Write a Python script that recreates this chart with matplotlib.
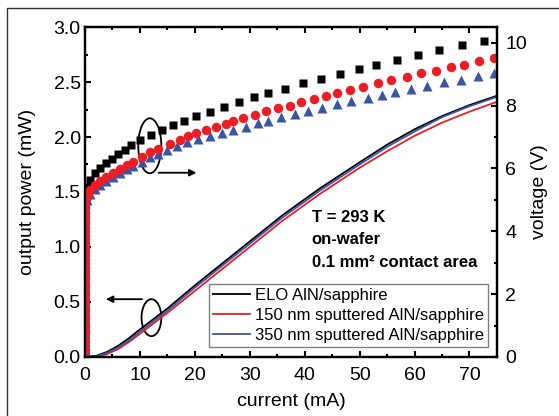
import matplotlib
matplotlib.use("Agg")
import matplotlib.pyplot as plt
from matplotlib.patches import Ellipse
from matplotlib.lines import Line2D

plt.rcParams["font.family"] = ["Liberation Sans", "DejaVu Sans"]

# output power (left axis), lines
cur_lines = [0, 2, 4, 6, 8, 10, 15, 20, 25, 30, 36, 42.7, 50, 55, 60, 65, 70, 75]
p_elo = [0, 0.01, 0.045, 0.10, 0.17, 0.25, 0.44, 0.65, 0.85, 1.05, 1.29, 1.53, 1.77, 1.93, 2.07, 2.19, 2.29, 2.375]
p_150 = [0, 0.0, 0.025, 0.07, 0.135, 0.21, 0.40, 0.60, 0.80, 1.00, 1.24, 1.48, 1.72, 1.87, 2.01, 2.13, 2.23, 2.32]
p_350 = [0, 0.005, 0.035, 0.085, 0.15, 0.23, 0.42, 0.63, 0.83, 1.03, 1.27, 1.51, 1.75, 1.91, 2.05, 2.18, 2.28, 2.365]

# voltage (right axis), markers
low_v = [0.0, 0.25, 0.5, 0.75, 1.0, 1.25, 1.5, 1.75, 2.0, 2.25, 2.5, 2.75,
         3.0, 3.25, 3.5, 3.75, 4.0, 4.25, 4.5, 4.75]
low_i = [0.0] * len(low_v)

i_elo = low_i + [0.0, 0.2, 0.5, 1.0, 1.8, 2.8, 3.8, 4.9, 6.0, 7.2, 8.4, 10.1, 12.0,
                 14.0, 16.1, 18.0, 20.2, 22.7, 25.3, 28.1, 30.8, 33.4, 36.4, 39.7,
                 43.0, 46.5, 49.8, 53.0, 56.8, 60.6, 64.5, 68.7, 72.7]
v_elo = low_v + [4.9, 5.1, 5.4, 5.62, 5.85, 6.02, 6.16, 6.31, 6.46, 6.6, 6.74, 6.9, 7.06,
                 7.21, 7.38, 7.51, 7.66, 7.81, 7.95, 8.12, 8.26, 8.40, 8.54, 8.72,
                 8.86, 9.02, 9.17, 9.30, 9.45, 9.61, 9.77, 9.93, 10.06]

i_150 = low_i + [0.05, 0.3, 0.9, 1.8, 2.7, 3.9, 5.1, 6.4, 7.6, 8.8, 10.3, 11.8, 13.3,
                 15.5, 17.3, 18.8, 20.3, 22.1, 23.9, 25.6, 27.0, 28.8, 30.9, 33.0,
                 35.1, 37.3, 39.3, 41.7, 43.9, 45.8, 48.2, 50.7, 53.3, 55.8, 58.6,
                 61.2, 63.9, 66.7, 69.0, 71.8, 74.5]
v_150 = low_v + [4.8, 5.09, 5.30, 5.46, 5.59, 5.72, 5.85, 5.99, 6.12, 6.22, 6.36, 6.52, 6.62,
                 6.78, 6.91, 7.02, 7.12, 7.23, 7.31, 7.42, 7.50, 7.60, 7.71, 7.83,
                 7.92, 8.00, 8.12, 8.21, 8.32, 8.40, 8.50, 8.60, 8.72, 8.81, 8.92,
                 9.03, 9.11, 9.22, 9.30, 9.41, 9.51]

i_350 = low_i + [0.05, 0.3, 0.9, 1.8, 2.7, 3.9, 5.1, 6.4, 7.6, 8.8, 10.3, 11.8, 13.3,
                 15.0, 16.8, 18.6, 20.5, 22.7, 24.9, 27.0, 29.3, 31.5, 33.3, 35.6,
                 38.2, 40.6, 43.2, 45.8, 48.5, 51.5, 54.1, 56.4, 59.3, 62.3, 65.3,
                 68.4, 71.5, 74.5]
v_350 = low_v + [4.75, 5.0, 5.2, 5.36, 5.48, 5.6, 5.72, 5.85, 5.97, 6.08, 6.22, 6.35, 6.46,
                 6.59, 6.72, 6.83, 6.93, 7.02, 7.12, 7.23, 7.33, 7.44, 7.52, 7.63,
                 7.72, 7.84, 7.93, 8.05, 8.14, 8.24, 8.35, 8.44, 8.53, 8.63, 8.74,
                 8.83, 8.95, 9.04]

labels = ["ELO AlN/sapphire", "150 nm sputtered AlN/sapphire", "350 nm sputtered AlN/sapphire"]
red = "#ee1c25"
blue = "#3a55a4"

fig = plt.figure(figsize=(5.59, 4.16), dpi=100)
ax = fig.add_axes([0.152, 0.142, 0.737, 0.793])
ax2 = ax.twinx()

ax.plot(cur_lines, p_elo, color="black", lw=1.3, label=labels[0])
ax.plot(cur_lines, p_150, color=red, lw=1.3, label=labels[1])
ax.plot(cur_lines, p_350, color=blue, lw=1.3, label=labels[2])

ax2.plot(i_elo, v_elo, ls="none", marker="s", ms=5.8, color="black", mec="none")
ax2.plot(i_350, v_350, ls="none", marker="^", ms=7.5, color=blue, mec="none")
ax2.plot(i_150, v_150, ls="none", marker="o", ms=6.8, color=red, mec="none")

ax.set_xlim(0, 75)
ax.set_ylim(0, 3.0)
ax2.set_ylim(0, 10.5)

ax.set_xticks([0, 10, 20, 30, 40, 50, 60, 70])
ax.set_xticks([5, 15, 25, 35, 45, 55, 65, 75], minor=True)
ax.set_yticks([0, 0.5, 1.0, 1.5, 2.0, 2.5, 3.0])
ax.set_yticks([0.25, 0.75, 1.25, 1.75, 2.25, 2.75], minor=True)
ax.set_yticklabels(["0.0", "0.5", "1.0", "1.5", "2.0", "2.5", "3.0"])
ax2.set_yticks([0, 2, 4, 6, 8, 10])
ax2.set_yticks([1, 3, 5, 7, 9], minor=True)

ax.tick_params(which="both", direction="in", top=True, width=1.5, labelsize=14)
ax.tick_params(which="major", length=4)
ax.tick_params(which="minor", length=2.5)
ax.tick_params(axis="y", pad=3)
ax.tick_params(axis="x", pad=7)
ax2.tick_params(which="both", direction="in", width=1.5, labelsize=14, pad=6)
ax2.tick_params(which="major", length=4)
ax2.tick_params(which="minor", length=2.5)
for a in (ax, ax2):
    for s in a.spines.values():
        s.set_linewidth(1.6)

ax.set_xlabel("current (mA)", fontsize=14)
ax.set_ylabel("output power (mW)", fontsize=14)
ax2.set_ylabel("voltage (V)", fontsize=14)
ax.xaxis.set_label_coords(0.5, -0.11)
ax.yaxis.set_label_coords(-0.118, 0.5)
ax2.yaxis.set_label_coords(1.083, 0.5)

# ellipses and arrows
ax.add_patch(Ellipse((12.1, 0.357), 3.6, 0.336, fill=False, lw=1.3, color="black"))
ax.annotate("", xy=(3.3, 0.525), xytext=(10.9, 0.525),
            arrowprops=dict(arrowstyle="-|>", color="black", lw=1.3, mutation_scale=10))
ax.add_patch(Ellipse((11.8, 1.92), 4.2, 0.5, fill=False, lw=1.3, color="black"))
ax.annotate("", xy=(20.8, 1.675), xytext=(12.9, 1.675),
            arrowprops=dict(arrowstyle="-|>", color="black", lw=1.3, mutation_scale=10))

ax.text(41.3, 1.264, "T = 293 K", fontsize=12, fontweight="bold", va="center")
ax.text(41.3, 1.064, "on-wafer", fontsize=12, fontweight="bold", va="center")
ax.text(41.3, 0.855, "0.1 mm\u00b2 contact area", fontsize=12, fontweight="bold", va="center")

leg = ax.legend(loc="lower right", bbox_to_anchor=(0.978, 0.03), borderaxespad=0,
                fontsize=12, fancybox=False, edgecolor="#808080", framealpha=1,
                handlelength=2.2, handletextpad=0.3, labelspacing=0.3, borderpad=0.25)
leg.get_frame().set_linewidth(1.0)

# outer frame (left and top edges visible)
fig.add_artist(Line2D([7 / 559, 7 / 559, 1.0], [0.0, 1 - 8 / 416, 1 - 8 / 416],
                      transform=fig.transFigure, color="#333333", lw=1.0))

fig.savefig("out.png", dpi=100)
